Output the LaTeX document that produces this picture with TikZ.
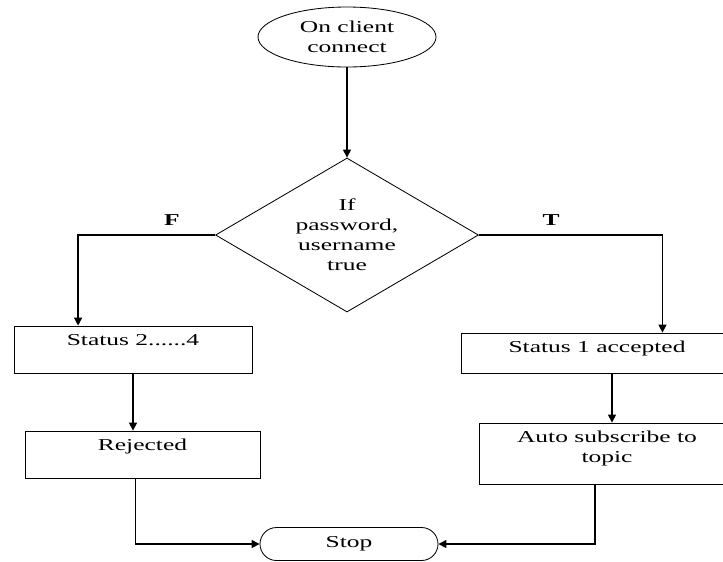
\documentclass[tikz,border=0pt]{standalone}
\usepackage{fontspec}
\setmainfont{Liberation Serif}[FakeStretch=1.53]
\usetikzlibrary{calc,positioning,shapes.geometric,shapes.misc,arrows.meta}
\tikzset{
  flowline/.style={line width=0.8pt,-{Triangle[length=4.8pt,width=4.8pt]}},
  outline/.style={draw,line width=0.5pt,inner sep=0pt,align=center},
  procbox/.style={outline,rectangle},
  boxtext/.style={anchor=north,inner sep=0pt,align=center},
}
\begin{document}
\begin{tikzpicture}[x=0.6pt,y=-0.6pt]
        \useasboundingbox (0,0) rectangle (723,561);
        \node[outline,ellipse,minimum width=106.8pt,minimum height=36pt] (start) at (347,37) {On client\\connect};
        \node[outline,diamond,aspect=1.7,minimum width=157.8pt,minimum height=92.4pt] (check) at (347,235) {If\\password,\\username\\true};
        % false branch
        \node[procbox,minimum width=142.8pt,minimum height=28.2pt] (sfail) at (133,349.5) {};
        \node[boxtext] (tfail) at ([yshift=-4.9pt]sfail.north) {Status 2......4};
        \node[procbox,minimum width=141pt,minimum height=28.2pt] (rej) at (142.5,454.5) {};
        \node[boxtext] (trej) at ([yshift=-4.9pt]rej.north) {Rejected};
        % true branch
        \node[procbox,minimum width=163.2pt,minimum height=24pt] (sok) at (597,353) {};
        \node[boxtext] (tok) at ([yshift=-4.9pt]sok.north) {Status 1 accepted};
        \node[procbox,minimum width=153.6pt,minimum height=36.6pt] (auto) at (607,453.5) {};
        \node[boxtext] (tauto) at ([yshift=-4.9pt]auto.north) {Auto subscribe to\\topic};
        \node[outline,rounded rectangle,minimum width=106.8pt,minimum height=19.8pt] (stop) at (349,544) {Stop};
        \node[font=\bfseries] (flab) at (172,220) {F};
        \node[font=\bfseries] (tlab) at (551,220) {T};
        \coordinate (faildown) at ($(sfail.north west)!0.27!(sfail.north east)$);
        \coordinate (rejdown) at ($(rej.south west)!0.47!(rej.south east)$);
        \coordinate (okin) at ($(sok.north west)!0.74!(sok.north east)$);
        \coordinate (okdown) at ($(sok.south west)!0.555!(sok.south east)$);
        \coordinate (autodown) at ($(auto.south west)!0.453!(auto.south east)$);
        \draw[flowline] (start) -- (check);
        \draw[flowline] (check.west) -| (faildown);
        \draw[flowline] (sfail.south) -- (sfail.south |- rej.north);
        \draw[flowline] (rejdown) |- (stop.west);
        \draw[flowline] (check.east) -| (okin);
        \draw[flowline] (okdown) -- (okdown |- auto.north);
        \draw[flowline] (autodown) |- (stop.east);
      \end{tikzpicture}
\end{document}
